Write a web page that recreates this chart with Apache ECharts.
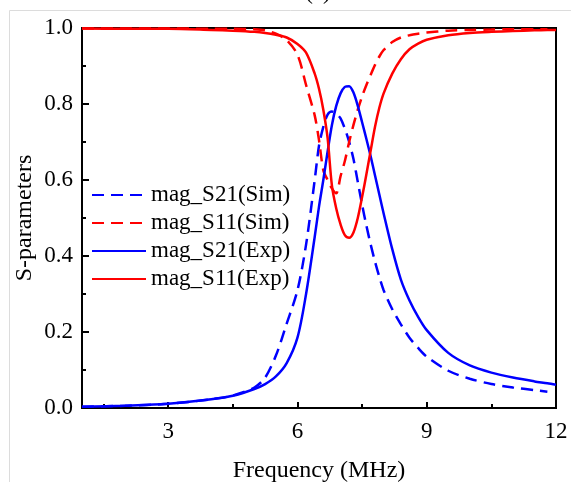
<!DOCTYPE html>
<html>
<head>
<meta charset="utf-8">
<script src="https://cdn.jsdelivr.net/npm/echarts@6/dist/echarts.min.js"></script>
<style>
html,body{margin:0;padding:0;background:#fff;}
#chart{width:571px;height:482px;}
</style>
</head>
<body>
<div id="chart"></div>
<script>
// Frequency grid (MHz)
const freq = [1, 2, 3, 4, 4.5, 5, 5.25, 5.5, 5.75, 6, 6.2, 6.4, 6.5, 6.6, 6.7, 6.8, 6.9, 7.0, 7.1, 7.2, 7.3, 7.4, 7.5, 7.6, 7.7, 7.8, 7.9, 8.0, 8.2, 8.4, 8.6, 8.8, 9.0, 9.5, 10, 10.5, 11, 11.5, 11.8, 12];

const s21Sim = [0.003, 0.006, 0.011, 0.023, 0.033, 0.054, 0.08, 0.138, 0.222, 0.31, 0.43, 0.60, 0.69, 0.74, 0.772, 0.78, 0.775, 0.762, 0.735, 0.70, 0.655, 0.595, 0.535, 0.48, 0.43, 0.385, 0.345, 0.31, 0.26, 0.22, 0.185, 0.158, 0.135, 0.098, 0.077, 0.063, 0.054, 0.047, 0.043, null];
const s11Sim = [0.999, 0.999, 0.999, 0.998, 0.998, 0.997, 0.994, 0.985, 0.968, 0.93, 0.85, 0.77, 0.705, 0.626, 0.60, 0.578, 0.565, 0.61, 0.65, 0.70, 0.745, 0.785, 0.82, 0.85, 0.877, 0.903, 0.925, 0.942, 0.963, 0.975, 0.981, 0.985, 0.988, 0.993, 0.995, 0.996, 0.997, 0.997, 0.997, null];
const s21Exp = [0.003, 0.006, 0.011, 0.023, 0.032, 0.05, 0.063, 0.083, 0.118, 0.185, 0.30, 0.45, 0.53, 0.60, 0.675, 0.745, 0.795, 0.828, 0.845, 0.847, 0.83, 0.795, 0.752, 0.708, 0.662, 0.612, 0.562, 0.512, 0.418, 0.338, 0.283, 0.24, 0.205, 0.145, 0.112, 0.093, 0.08, 0.07, 0.065, 0.061];
const s11Exp = [0.999, 0.998, 0.998, 0.995, 0.993, 0.99, 0.987, 0.982, 0.975, 0.958, 0.935, 0.88, 0.84, 0.785, 0.71, 0.585, 0.525, 0.483, 0.455, 0.448, 0.462, 0.50, 0.555, 0.615, 0.678, 0.74, 0.79, 0.828, 0.88, 0.918, 0.944, 0.959, 0.969, 0.981, 0.987, 0.99, 0.992, 0.994, 0.995, 0.995];

const seriesNames = ['mag_S21(Sim)', 'mag_S11(Sim)', 'mag_S21(Exp)', 'mag_S11(Exp)'];
const xMajorTicks = [3, 6, 9, 12];
const xMinorTicks = [1.5, 4.5, 7.5, 10.5];

const pairs = arr => freq.map((f, i) => [f, arr[i]]);
const FONT = 'Liberation Serif';
const BLUE = '#0000ff', RED = '#ff0000';

const chart = echarts.init(document.getElementById('chart'), null, {renderer: 'canvas'});

function mk(name, data, color, dashed) {
  return {
    name: name, type: 'line', data: pairs(data), showSymbol: false, symbol: 'none',
    smooth: 0.3, connectNulls: false,
    lineStyle: {color: color, width: 2.5, type: dashed ? [12, 7] : 'solid'},
    itemStyle: {color: color}, animation: false
  };
}

chart.setOption({
  animation: false,
  backgroundColor: '#fff',
  graphic: [
    {type: 'rect', shape: {x: 9.5, y: 10.5, width: 620, height: 520}, style: {fill: 'none', stroke: '#dcdcdc', lineWidth: 1}, silent: true},
    {type: 'text', style: {text: '(a)', x: 318, y: -19, textAlign: 'center', textVerticalAlign: 'top', font: '23px "Liberation Serif"', fill: '#000'}}
  ],
  grid: {left: 82, right: 15, top: 28, bottom: 74, containLabel: false, outerBoundsMode: 'none',
         show: true, borderColor: '#000', borderWidth: 2, backgroundColor: 'transparent'},
  legend: {
    orient: 'vertical', left: 86, top: 176, itemWidth: 54, itemHeight: 14, itemGap: 0,
    itemStyle: {opacity: 0},
    textStyle: {fontFamily: FONT, fontSize: 23, color: '#000', lineHeight: 28},
    data: seriesNames
  },
  xAxis: [{
    type: 'value', min: 1, max: 12,
    name: 'Frequency (MHz)', nameLocation: 'middle', nameGap: 51,
    nameTextStyle: {fontFamily: FONT, fontSize: 24, color: '#000'},
    axisLine: {show: true, lineStyle: {color: '#000', width: 2}},
    axisTick: {show: true, inside: true, length: 6, customValues: xMajorTicks, lineStyle: {color: '#000', width: 2}},
    axisLabel: {customValues: xMajorTicks, fontFamily: FONT, fontSize: 23, color: '#000', margin: 12},
    splitLine: {show: false}
  }, {
    type: 'value', min: 1, max: 12, position: 'bottom',
    axisLine: {show: false},
    axisTick: {show: true, inside: true, length: 4, customValues: xMinorTicks, lineStyle: {color: '#000', width: 2}},
    axisLabel: {show: false},
    splitLine: {show: false}
  }],
  yAxis: {
    type: 'value', min: 0, max: 1, interval: 0.2,
    name: 'S-parameters', nameLocation: 'middle', nameGap: 45, nameMoveOverlap: false,
    nameTextStyle: {fontFamily: FONT, fontSize: 24, color: '#000'},
    axisLine: {show: true, lineStyle: {color: '#000', width: 2}},
    axisTick: {show: true, inside: true, length: 7, lineStyle: {color: '#000', width: 2}},
    minorTick: {show: true, splitNumber: 2, length: 4, lineStyle: {color: '#000', width: 2}},
    axisLabel: {fontFamily: FONT, fontSize: 23, color: '#000', margin: 9, formatter: v => v.toFixed(1)},
    splitLine: {show: false}, minorSplitLine: {show: false}
  },
  series: [
    mk(seriesNames[0], s21Sim, BLUE, true),
    mk(seriesNames[1], s11Sim, RED, true),
    mk(seriesNames[2], s21Exp, BLUE, false),
    mk(seriesNames[3], s11Exp, RED, false)
  ]
});
</script>
</body>
</html>
